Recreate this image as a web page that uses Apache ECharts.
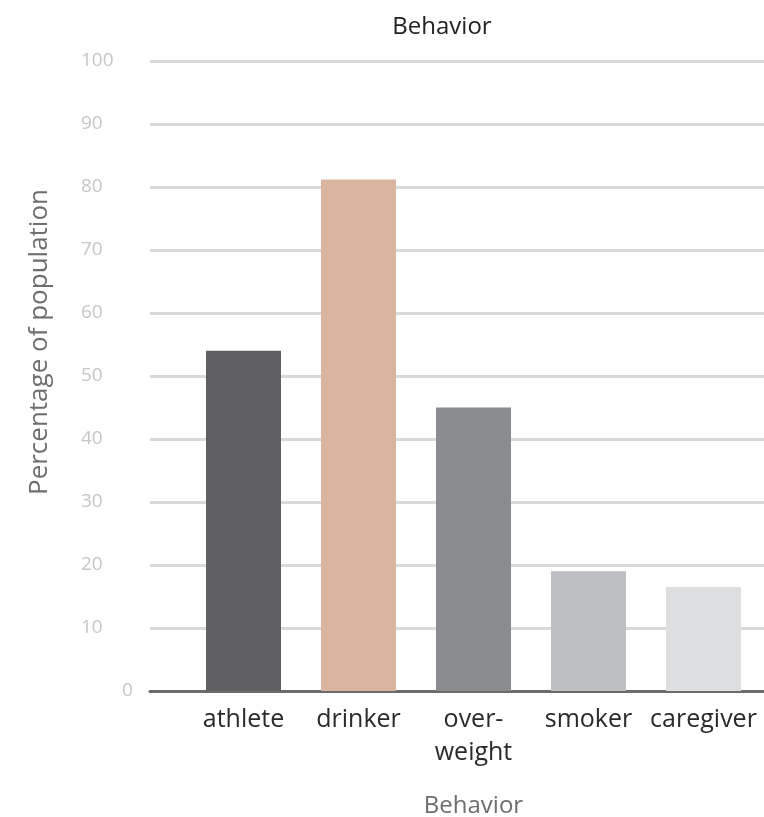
<!DOCTYPE html>
<html><head><meta charset="utf-8">
<script src="https://cdn.jsdelivr.net/npm/echarts@6/dist/echarts.min.js"></script>
<style>html,body{margin:0;padding:0;background:#fff}#c{width:764px;height:817px}</style>
</head><body><div id="c"></div>
<script>
const categories = ['athlete', 'drinker', 'over-\nweight', 'smoker', 'caregiver'];
const values = [54, 81.2, 45, 19, 16.5];
const barColors = ['#606062', '#dbb49f', '#8b8c8f', '#bebfc2', '#dddee0'];
const yTicks = { min: 0, max: 100, interval: 10 };
const titleText = 'Behavior';
const xName = 'Behavior';
const yName = 'Percentage of population';

const FONT = '"Open Sans", sans-serif';
const chart = echarts.init(document.getElementById('c'), null, { renderer: 'canvas' });
chart.setOption({
  animation: false,
  title: { text: titleText, left: 437, top: 10, textAlign: 'center',
    textStyle: { fontFamily: FONT, fontSize: 24, fontWeight: 'normal', color: '#222' } },
  grid: [
    { left: 150, right: 0, top: 61, bottom: 126, containLabel: false, outerBoundsMode: 'none' },
    { left: 186, right: 3, top: 61, bottom: 126, containLabel: false, outerBoundsMode: 'none' }
  ],
  xAxis: [
    { gridIndex: 0, type: 'category', data: categories, axisLabel: { show: false }, axisTick: { show: false },
      axisLine: { show: true, lineStyle: { color: '#6b6b6b', width: 3 } } },
    { gridIndex: 1, type: 'category', data: categories,
      axisLine: { show: false }, axisTick: { show: false },
      axisLabel: { margin: 12, fontFamily: FONT, fontSize: 25, color: '#2a2a2a', lineHeight: 33, interval: 0 },
      name: xName, nameLocation: 'middle', nameGap: 103,
      nameTextStyle: { fontFamily: FONT, fontSize: 24, color: '#6e6e6e' } }
  ],
  yAxis: [
    { gridIndex: 0, type: 'value', min: yTicks.min, max: yTicks.max, interval: yTicks.interval,
      axisLine: { show: false }, axisTick: { show: false },
      splitLine: { show: true, lineStyle: { color: '#d9d9d9', width: 3 } },
      axisLabel: { align: 'left', margin: 69, fontFamily: FONT, fontSize: 19, color: '#c6c6c6',
        formatter: v => v === 0 ? '{z|0}' : String(v),
        rich: { z: { padding: [0, 0, 0, 41], fontFamily: FONT, fontSize: 19, color: '#c6c6c6' } } } },
    { gridIndex: 1, type: 'value', min: yTicks.min, max: yTicks.max, interval: yTicks.interval, show: false }
  ],
  graphic: [
    { type: 'text', x: 40, y: 342, rotation: Math.PI / 2,
      style: { text: yName, fontFamily: FONT, fontSize: 26, fill: '#6e6e6e', align: 'center', verticalAlign: 'middle' } }
  ],
  series: [{
    type: 'bar', xAxisIndex: 1, yAxisIndex: 1, barWidth: 75,
    data: values.map((v, i) => ({ value: v, itemStyle: { color: barColors[i] } })),
    z: 3
  }]
});
</script></body></html>
